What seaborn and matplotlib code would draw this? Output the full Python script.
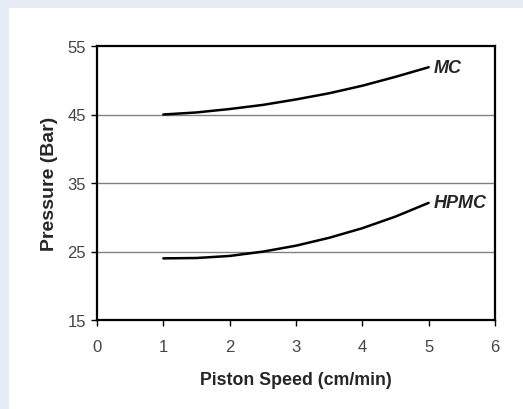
import matplotlib
matplotlib.use("Agg")
import matplotlib.pyplot as plt
import seaborn as sns
import pandas as pd
from matplotlib.patches import Rectangle

speed = [1.0, 1.5, 2.0, 2.5, 3.0, 3.5, 4.0, 4.5, 5.0]
mc_pressure = [45.0, 45.3, 45.8, 46.4, 47.2, 48.1, 49.2, 50.5, 51.9]
hpmc_pressure = [24.0, 24.05, 24.35, 24.98, 25.85, 27.0, 28.4, 30.1, 32.1]
series_names = ["MC", "HPMC"]
x_ticks = [0, 1, 2, 3, 4, 5, 6]
y_ticks = [15, 25, 35, 45, 55]

df = pd.DataFrame({
    "speed": speed * 2,
    "pressure": mc_pressure + hpmc_pressure,
    "series": [series_names[0]] * len(speed) + [series_names[1]] * len(speed),
})

sns.set_style("white")
plt.rcParams['font.family'] = ['Liberation Sans', 'DejaVu Sans']

W, H = 523, 410
fig = plt.figure(figsize=(W / 100, H / 100), dpi=100)
fig.patch.set_facecolor("#e6ecf4")
bg = Rectangle((9 / W, 0), 1, 1 - 9 / H, transform=fig.transFigure,
               facecolor="white", edgecolor="none", zorder=-10)
fig.add_artist(bg)

ax = fig.add_axes([97 / W, 1 - 321 / H, (495 - 97) / W, (321 - 47) / H])
ax.set_zorder(1)
ax.set_facecolor("white")

sns.lineplot(data=df, x="speed", y="pressure", hue="series", units="series",
             estimator=None, palette={"MC": "black", "HPMC": "black"},
             linewidth=1.8, legend=False, ax=ax, zorder=3)

ax.set_xlim(0, 6)
ax.set_ylim(15, 55)
ax.set_xticks(x_ticks)
ax.set_yticks(y_ticks)
for yv in y_ticks[1:-1]:
    ax.axhline(yv, color="#808080", linewidth=1.0, zorder=1)

for s in ax.spines.values():
    s.set_visible(True)
    s.set_color("black")
    s.set_linewidth(1.6)

ax.tick_params(axis="both", which="major", direction="out", length=4, width=1,
               color="black", labelsize=12, labelcolor="#444444", pad=4,
               bottom=True, left=True)
ax.tick_params(axis="x", pad=10)

ax.set_xlabel("Piston Speed (cm/min)", fontsize=12.8, fontweight="bold", labelpad=12)
ax.set_ylabel("Pressure (Bar)", fontsize=14, fontweight="bold", labelpad=7)

ax.text(speed[-1] + 0.07, mc_pressure[-1], series_names[0], fontsize=13,
        fontweight="bold", fontstyle="italic", va="center", ha="left")
ax.text(speed[-1] + 0.07, hpmc_pressure[-1], series_names[1], fontsize=13,
        fontweight="bold", fontstyle="italic", va="center", ha="left")

fig.savefig("out.png", dpi=100, facecolor=fig.get_facecolor())
